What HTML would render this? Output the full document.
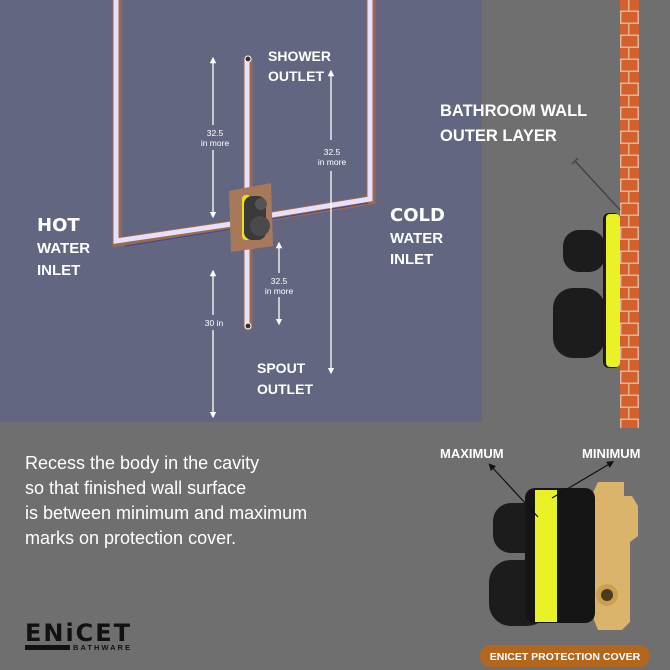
<!DOCTYPE html>
<html><head><meta charset="utf-8"><style>
html,body{margin:0;padding:0;background:#6f6f6f;}
svg{display:block;font-family:"Liberation Sans",Arial,sans-serif;}
</style></head><body>
<svg width="670" height="670" viewBox="0 0 670 670" xmlns="http://www.w3.org/2000/svg">
<defs>
<marker id="ah" viewBox="0 0 10 10" refX="5" refY="5" markerWidth="5" markerHeight="5" orient="auto-start-reverse"><path d="M0,0 L10,5 L0,10 z" fill="#fff"/></marker>
<marker id="bh" viewBox="0 0 10 10" refX="5" refY="5" markerWidth="6" markerHeight="6" orient="auto"><path d="M0,0 L10,5 L0,10 z" fill="#111"/></marker>
<pattern id="brick" width="19" height="24" patternUnits="userSpaceOnUse" x="620" y="0">
<rect width="19" height="24" fill="#d4602c"/>
<rect y="10.5" width="19" height="1.5" fill="#dcb59c"/>
<rect y="22.5" width="19" height="1.5" fill="#dcb59c"/>
<rect x="8" y="0" width="1.5" height="10.5" fill="#dcb59c"/>
<rect x="0" y="12" width="1.5" height="10.5" fill="#dcb59c"/>
<rect x="17.5" y="12" width="1.5" height="10.5" fill="#dcb59c"/>
</pattern>
</defs>
<rect width="670" height="670" fill="#6f6f6f"/>
<rect x="0" y="0" width="482" height="422" fill="#626681"/>
<rect x="620" y="0" width="19" height="428" fill="url(#brick)"/>
<!-- pipes -->
<g stroke-linecap="round" fill="none">
<path d="M117,0 L117,242 L232,225" stroke="#9a6a50" stroke-width="9"/>
<path d="M116,0 L116,241 L232,224" stroke="#e8e0f8" stroke-width="5"/>
<path d="M371,0 L371,200 L272,216" stroke="#9a6a50" stroke-width="9"/>
<path d="M370,0 L370,199 L272,215" stroke="#e8e0f8" stroke-width="5"/>
<path d="M248,60 L248,326" stroke="#9a6a50" stroke-width="9"/>
<path d="M247,60 L247,326" stroke="#e8e0f8" stroke-width="5"/>
<path d="M125,246 L232,229 M272,219 L368,203" stroke="#3a4a90" stroke-width="1"/>
</g>
<circle cx="248" cy="59" r="3" fill="#333" stroke="#fff"/>
<circle cx="248" cy="326" r="3" fill="#333" stroke="#fff"/>
<!-- box -->
<path d="M229,191 L271,183 L273,246 L231,252 z" fill="#a8785a"/>
<rect x="242" y="195" width="9" height="45" rx="4" fill="#e8e020"/>
<rect x="244" y="196" width="22" height="44" rx="8" fill="#3a3a3a"/>
<circle cx="261" cy="204" r="6" fill="#555"/>
<circle cx="260" cy="226" r="10" fill="#4a4a4a"/>
<!-- dimension arrows -->
<g stroke="#fff" stroke-width="1.3">
<line x1="213" y1="60" x2="213" y2="125" marker-start="url(#ah)"/>
<line x1="213" y1="150" x2="213" y2="215" marker-end="url(#ah)"/>
<line x1="331" y1="73" x2="331" y2="140" marker-start="url(#ah)"/>
<line x1="331" y1="171" x2="331" y2="371" marker-end="url(#ah)"/>
<line x1="279" y1="245" x2="279" y2="273" marker-start="url(#ah)"/>
<line x1="279" y1="297" x2="279" y2="322" marker-end="url(#ah)"/>
<line x1="213" y1="273" x2="213" y2="315" marker-start="url(#ah)"/>
<line x1="213" y1="330" x2="213" y2="415" marker-end="url(#ah)"/>
</g>
<g fill="#fff" font-size="8.5" text-anchor="middle">
<text x="215" y="136">32.5</text><text x="215" y="146">in more</text>
<text x="332" y="155">32.5</text><text x="332" y="165">in more</text>
<text x="279" y="284">32.5</text><text x="279" y="294">in more</text>
<text x="214" y="326">30 in</text>
</g>
<g fill="#fff" font-weight="bold" font-size="14">
<text x="268" y="61">SHOWER</text><text x="268" y="81">OUTLET</text>
<text x="37" y="253" font-size="15">WATER</text><text x="37" y="275" font-size="15">INLET</text>
<text x="37" y="231" font-size="18" font-family="DejaVu Sans">HOT</text>
<text x="390" y="221" font-size="18" font-family="DejaVu Sans">COLD</text>
<text x="390" y="243" font-size="15">WATER</text><text x="390" y="264" font-size="15">INLET</text>
<text x="257" y="373">SPOUT</text><text x="257" y="394">OUTLET</text>
<text x="440" y="116" font-size="16.5">BATHROOM WALL</text>
<text x="440" y="141" font-size="16.5">OUTER LAYER</text>
</g>
<line x1="575" y1="161" x2="620" y2="210" stroke="#444" stroke-width="1.5"/>
<line x1="572" y1="164" x2="578" y2="158" stroke="#444" stroke-width="1.5"/>
<!-- right device -->
<rect x="563" y="230" width="42" height="42" rx="16" fill="#1c1c1c"/>
<rect x="553" y="288" width="52" height="70" rx="20" fill="#1c1c1c"/>
<rect x="603" y="213" width="17" height="155" rx="6" fill="#1a1a1a"/>
<rect x="606" y="214" width="14" height="153" rx="4" fill="#e9f227"/>
<!-- paragraph -->
<g fill="#fff" font-size="18">
<text x="25" y="469">Recess the body in the cavity</text>
<text x="25" y="494">so that finished wall surface</text>
<text x="25" y="519">is between minimum and maximum</text>
<text x="25" y="544">marks on protection cover.</text>
</g>
<!-- bottom device -->
<g>
<path d="M598,482 h26 v14 h8 l6,10 v30 l-8,6 v80 l-8,8 h-24 l-4,-10 v-30 l-10,-8 v-70 z" fill="#d9b46a"/>
<circle cx="607" cy="595" r="11" fill="#c9a050"/><circle cx="607" cy="595" r="6" fill="#4a3a20"/>
<rect x="493" y="503" width="55" height="50" rx="18" fill="#1c1c1c"/>
<rect x="489" y="560" width="60" height="66" rx="22" fill="#1c1c1c"/>
<rect x="525" y="488" width="70" height="135" rx="10" fill="#151515"/>
<rect x="535" y="490" width="22" height="132" fill="#e9f227"/>
</g>
<g fill="#fff" font-weight="bold" font-size="13">
<text x="440" y="458">MAXIMUM</text><text x="582" y="458">MINIMUM</text>
</g>
<line x1="538" y1="517" x2="491" y2="466" stroke="#111" stroke-width="1.2" marker-end="url(#bh)"/>
<line x1="552" y1="498" x2="611" y2="463" stroke="#111" stroke-width="1.2" marker-end="url(#bh)"/>
<rect x="480" y="645" width="170" height="22" rx="11" fill="#b5661d"/>
<text x="565" y="660" text-anchor="middle" fill="#fff" font-weight="bold" font-size="10.5">ENICET PROTECTION COVER</text>
<text x="25" y="641" font-size="24" font-weight="bold" fill="#111" textLength="105" font-family="DejaVu Sans">ENiCET</text>
<rect x="25" y="645" width="45" height="5" fill="#111"/>
<text x="73" y="650" font-size="7.5" font-weight="bold" fill="#111" textLength="57">BATHWARE</text>
</svg>
</body></html>
